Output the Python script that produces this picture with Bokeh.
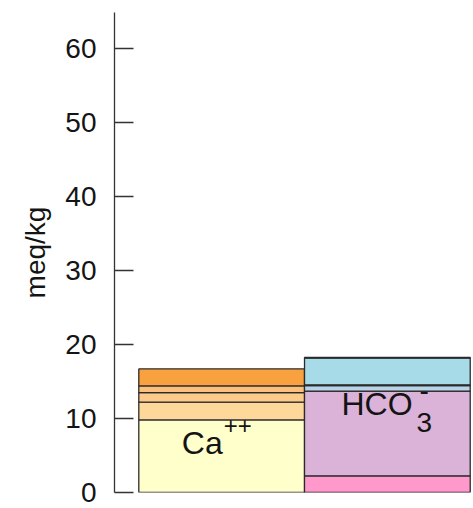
from bokeh.plotting import figure
from bokeh.models import FixedTicker, ColumnDataSource
from bokeh.core.properties import value
from bokeh.embed import file_html
from bokeh.resources import INLINE

# ---- data (meq/kg) ----
cation_names = ["Ca++", "Mg++", "Sr++", "K+", "Na+"]
cation_vals = [9.8, 2.4, 1.3, 0.9, 2.3]
cation_colors = ["#FFFFCC", "#FDD89A", "#FCCA8A", "#FBC07C", "#F9A03F"]

anion_names = ["SO4--", "HCO3-", "NO3-", "F-", "Cl-", "Br-"]
anion_vals = [2.25, 11.45, 0.75, 0.1, 3.6, 0.1]
anion_colors = ["#FF99CC", "#DBB3D8", "#B7D5E6", "#A7DBE8", "#A7DBE8", "#A7DBE8"]

y_ticks = [0, 10, 20, 30, 40, 50, 60]


def stack(vals):
    bottoms, tops = [], []
    acc = 0.0
    for v in vals:
        bottoms.append(acc)
        acc += v
        tops.append(acc)
    return bottoms, tops


cb, ct = stack(cation_vals)
ab, at = stack(anion_vals)

p = figure(width=473, height=508, output_backend="svg", toolbar_location=None,
           x_range=(0.3533, 2.5138), y_range=(0, 64.86),
           min_border_left=114, min_border_right=1, min_border_top=12,
           min_border_bottom=16)
p.outline_line_color = None
p.xgrid.visible = False
p.ygrid.visible = False
p.xaxis.visible = False
p.background_fill_color = "white"
p.border_fill_color = "white"

edge = "#2a2a2a"
src_c = ColumnDataSource(dict(left=[0.5] * len(cation_vals), right=[1.5] * len(cation_vals),
                              bottom=cb, top=ct, color=cation_colors, name=cation_names))
src_a = ColumnDataSource(dict(left=[1.5] * len(anion_vals), right=[2.5] * len(anion_vals),
                              bottom=ab, top=at, color=anion_colors, name=anion_names))
p.quad(left="left", right="right", bottom="bottom", top="top", fill_color="color",
       line_color=edge, line_width=1.3, source=src_c)
p.quad(left="left", right="right", bottom="bottom", top="top", fill_color="color",
       line_color=edge, line_width=1.3, source=src_a)

font = value("Liberation Sans")
tc = "#141414"
# Ca++ label
p.text(x=[0.5], y=[ct[0]], text=["Ca"], x_offset=43, y_offset=23,
       text_font=font, text_font_size="32px", text_color=tc,
       text_align="left", text_baseline="alphabetic")
p.text(x=[0.5], y=[ct[0]], text=["++"], x_offset=85, y_offset=6,
       text_font=font, text_font_size="24px", text_color=tc,
       text_align="left", text_baseline="alphabetic")
# HCO3- label
p.text(x=[1.5], y=[at[1]], text=["HCO"], x_offset=37, y_offset=13,
       text_font=font, text_font_size="32px", text_color=tc,
       text_align="left", text_baseline="alphabetic")
p.text(x=[1.5], y=[at[1]], text=["3"], x_offset=112, y_offset=31,
       text_font=font, text_font_size="28px", text_color=tc,
       text_align="left", text_baseline="alphabetic")
p.text(x=[1.5], y=[at[1]], text=["-"], x_offset=115, y_offset=-1,
       text_font=font, text_font_size="28px", text_color=tc,
       text_align="left", text_baseline="alphabetic")

ax = p.yaxis[0]
ax.ticker = FixedTicker(ticks=y_ticks)
ax.minor_tick_line_color = None
ax.major_tick_in = 19
ax.major_tick_out = 0
ax.major_tick_line_color = "#333333"
ax.major_tick_line_width = 1.3
ax.axis_line_color = "#333333"
ax.axis_line_width = 1.3
ax.major_label_standoff = 18
ax.major_label_text_font = "Liberation Sans"
ax.major_label_text_font_size = "28px"
ax.major_label_text_color = tc
ax.axis_label = "meq/kg"
ax.axis_label_text_font = "Liberation Sans"
ax.axis_label_text_font_size = "28px"
ax.axis_label_text_font_style = "normal"
ax.axis_label_text_color = tc
ax.axis_label_standoff = 11

open("out.html", "w").write(file_html(p, INLINE))
